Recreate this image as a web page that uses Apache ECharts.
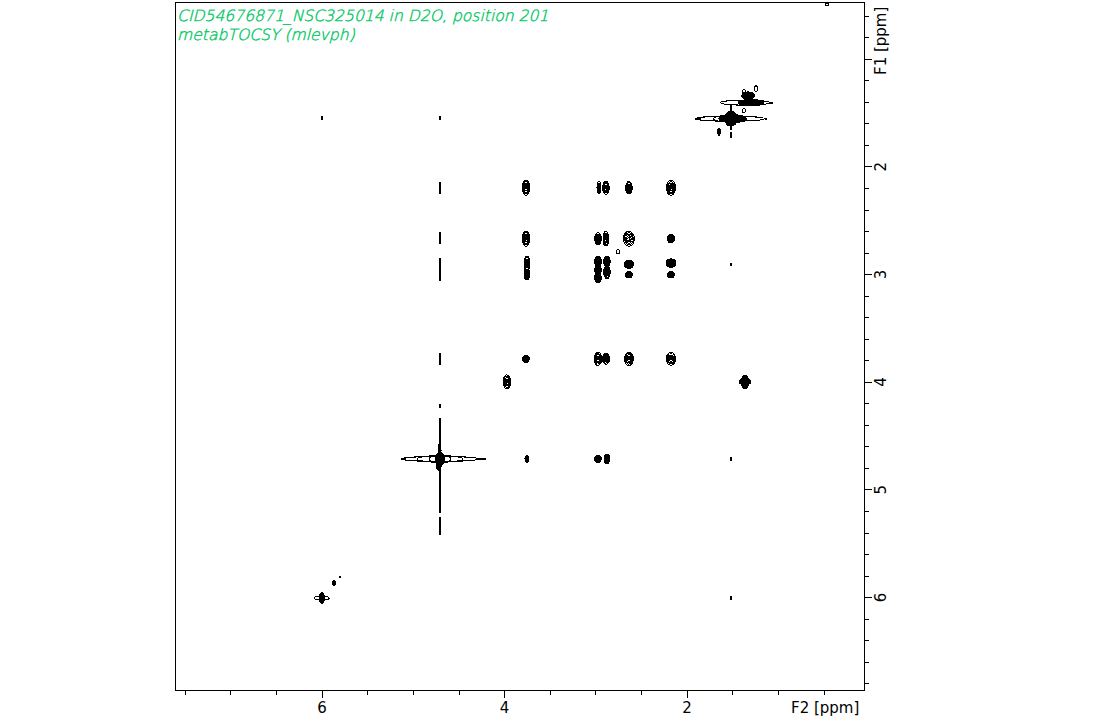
<!DOCTYPE html>
<html><head><meta charset="utf-8">
<style>html,body{margin:0;padding:0;background:#fff}#c{width:1110px;height:720px}#c path,#c ellipse,#c line{shape-rendering:crispEdges}</style>
<script src="https://cdn.jsdelivr.net/npm/echarts@6/dist/echarts.min.js"></script>
</head><body><div id="c"></div>
<script>
const titleLines = ['CID54676871_NSC325014 in D2O, position 201', 'metabTOCSY (mlevph)'];
const f2Major = [6, 4, 2];
const f2Minor = [7.5, 7, 6.5, 5.5, 5, 4.5, 3.5, 3, 2.5, 1.5, 1, 0.5];
const f1Major = [2, 3, 4, 5, 6];
const f1MajorUnlabelled = [1];
const f1Minor = [0.6, 0.8, 1.2, 1.4, 1.6, 1.8, 2.2, 2.4, 2.6, 2.8, 3.2, 3.4, 3.6, 3.8, 4.2, 4.4, 4.6, 4.8, 5.2, 5.4, 5.6, 5.8, 6.2, 6.4, 6.6, 6.8];
// each peak: [F2 ppm, F1 ppm, half-width F2, half-width F1]
const crossPeaks = [
  [3.764,2.195,.042,.07],[2.964,2.195,.022,.056],[2.888,2.195,.036,.062],[2.636,2.195,.036,.058],[2.175,2.195,.05,.07],
  [3.764,2.669,.042,.07],[2.975,2.669,.036,.056],[2.888,2.669,.03,.068],[2.636,2.669,.06,.07],[2.175,2.669,.04,.04],
  [3.753,2.90,.03,.07],[3.753,3.0,.03,.05],[2.975,2.88,.036,.05],[2.975,2.96,.036,.05],[2.975,3.03,.036,.045],
  [2.877,2.88,.036,.05],[2.877,2.98,.036,.06],[2.636,2.906,.05,.04],[2.636,3.004,.036,.03],[2.175,2.895,.055,.04],[2.175,3.004,.036,.03],
  [3.764,3.784,.036,.036],[2.975,3.784,.042,.062],[2.888,3.784,.04,.05],[2.636,3.784,.048,.062],[2.175,3.784,.052,.06],
  [3.973,3.998,.042,.065],
  [3.753,4.714,.022,.03],[2.975,4.714,.036,.036],[2.877,4.714,.03,.045]
];
const smallPeaks = [
  [2.756,2.79,.018,.02],[0.466,0.494,.016,.014],[1.244,1.275,.016,.028],[1.375,1.303,.016,.019],[1.375,1.48,.016,.019]
];
const waterLobes = [[4.707,4.714,.42,.023],[4.707,4.714,.25,.030],[4.707,4.714,.12,.033]];
const methylLobes = [[1.364,1.405,.27,.023],[1.529,1.554,.38,.023],[1.529,1.554,.18,.030],[6.0,6.006,.08,.019]];
const solidCores = [
  [4.707,4.714,.05,.06],[4.72,4.74,.03,.08],[4.707,4.63,.012,.10],
  [1.30,1.405,.14,.030],[1.33,1.34,.07,.035],[1.518,1.554,.07,.07],[1.50,1.554,.15,.037],
  [6.0,6.006,.027,.05],[1.364,3.998,.04,.065],[1.364,3.998,.066,.025],
  [5.868,5.866,.014,.028],[5.803,5.81,.008,.009],[1.649,1.675,.014,.033]
];
// vertical ridges: [F2 ppm, F1 start, F1 end]
const ridges = [
  [4.707,4.20,4.24],[4.707,4.33,5.22],[4.707,5.25,5.42],
  [4.707,1.525,1.565],[6.0,1.525,1.565],
  [4.707,2.14,2.25],[4.707,2.61,2.72],[4.707,2.85,3.06],[4.707,3.73,3.84],
  [1.518,1.42,1.66],[1.518,1.68,1.73],[1.518,2.895,2.925],[1.518,4.695,4.735],[1.518,5.99,6.02]
];
// horizontal tails: [F1 ppm, F2 start, F2 end]
const tails = [[4.714,5.13,5.08],[4.714,4.29,4.20],[1.554,1.91,1.85],[1.554,1.15,1.12],[1.405,1.10,1.06]];

const axisBase = {type:'value', min:0.06, max:7.61, inverse:true, splitLine:{show:false}, axisLine:{show:false}};
const f1Base = {type:'value', min:0.47, max:6.86, inverse:true, position:'right', splitLine:{show:false}, axisLine:{show:false}};
const tickFont = {color:'#000', fontFamily:'DejaVu Sans', fontSize:15};

function ellipses(levels, fill){
  return function(params, api){
    const c = api.coord([api.value(0), api.value(1)]);
    const s = api.size([api.value(2), api.value(3)]);
    const children = levels.map(k => ({type:'ellipse',
      shape:{cx:c[0], cy:c[1], rx:s[0]*k, ry:s[1]*k},
      style:{fill:fill, stroke:'#000', lineWidth:1}}));
    return {type:'group', children};
  };
}
const ell = (data, levels, fill) => ({type:'custom', xAxisIndex:0, yAxisIndex:0, data, clip:true, silent:true,
  renderItem:ellipses(levels, fill), encode:{x:0,y:1}});

const chart = echarts.init(document.getElementById('c'), null, {renderer:'svg'});
chart.setOption({
  animation:false,
  backgroundColor:'#fff',
  title:{text:titleLines.join('\n'), left:177, top:6, padding:0,
    textStyle:{color:'#00c864', textBorderColor:'#00c864', textBorderWidth:0.4, fontFamily:'DejaVu Sans Light', fontStyle:'italic', fontWeight:200, fontSize:15.6, lineHeight:19}},
  grid:{left:175, top:2, right:246, bottom:30, show:true, borderColor:'#000', borderWidth:1, backgroundColor:'#fff'},
  xAxis:[
    Object.assign({}, axisBase, {position:'bottom',
      axisTick:{show:true, length:8, inside:false, customValues:f2Major, lineStyle:{color:'#000'}},
      axisLabel:Object.assign({show:true, margin:10, customValues:f2Major, formatter:v=>String(v)}, tickFont)}),
    Object.assign({}, axisBase, {position:'bottom',
      axisTick:{show:true, length:5, customValues:f2Minor, lineStyle:{color:'#000'}},
      axisLabel:{show:false}})
  ],
  yAxis:[
    Object.assign({}, f1Base, {
      axisTick:{show:true, length:8, customValues:f1Major.concat(f1MajorUnlabelled), lineStyle:{color:'#000'}},
      axisLabel:Object.assign({show:true, margin:9, rotate:90, customValues:f1Major, formatter:v=>String(v)}, tickFont)}),
    Object.assign({}, f1Base, {
      axisTick:{show:true, length:5, customValues:f1Minor, lineStyle:{color:'#000'}},
      axisLabel:{show:false}})
  ],
  graphic:[
    {type:'text', left:791, top:700, style:{text:'F2 [ppm]', fill:'#000', font:'15px "DejaVu Sans"'}},
    {type:'text', x:873, y:75, rotation:Math.PI/2, style:{text:'F1 [ppm]', fill:'#000', font:'15px "DejaVu Sans"'}}
  ],
  series:[
    ell(crossPeaks,[1,0.8,0.6,0.4,0.2],'none'),
    ell(smallPeaks,[1],'none'),
    ell(waterLobes,[1],'none'),
    ell(methylLobes,[1],'none'),
    ell(solidCores,[1],'#000'),
    {type:'custom', data:ridges, silent:true, renderItem:(p,api)=>{
      const a=api.coord([api.value(0),api.value(1)]), b=api.coord([api.value(0),api.value(2)]);
      return {type:'line', shape:{x1:a[0],y1:a[1],x2:b[0],y2:b[1]}, style:{stroke:'#000',lineWidth:2}};
    }},
    {type:'custom', data:tails, silent:true, renderItem:(p,api)=>{
      const a=api.coord([api.value(1),api.value(0)]), b=api.coord([api.value(2),api.value(0)]);
      return {type:'line', shape:{x1:a[0],y1:a[1],x2:b[0],y2:b[1]}, style:{stroke:'#000',lineWidth:2}};
    }}
  ]
});
</script></body></html>
